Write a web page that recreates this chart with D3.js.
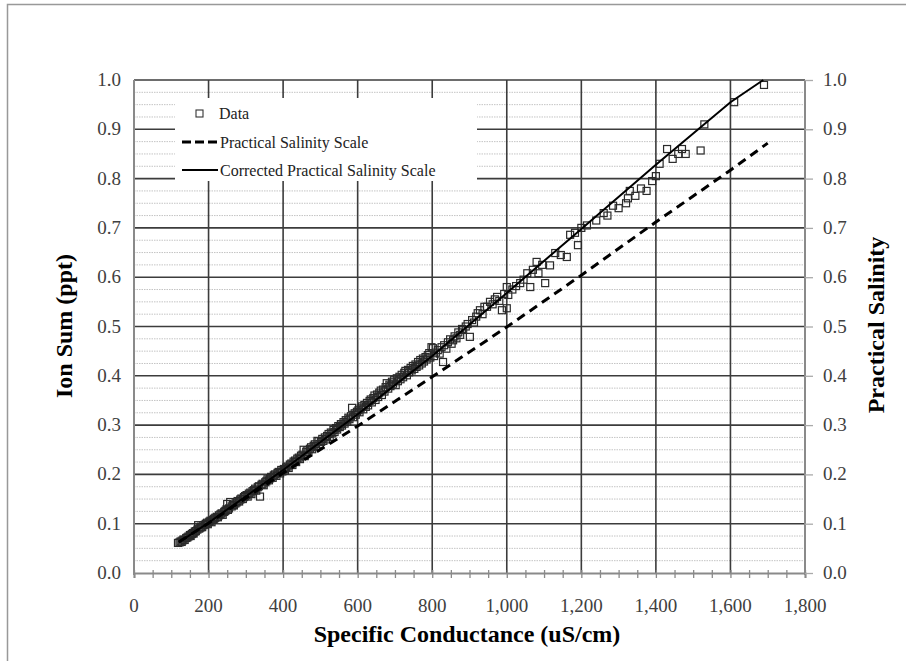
<!DOCTYPE html>
<html>
<head>
<meta charset="utf-8">
<script src="https://cdn.jsdelivr.net/npm/d3@7"></script>
<style>
  body { margin: 0; background: #fff; }
  text { font-family: "Liberation Serif", "Times New Roman", serif; }
</style>
</head>
<body>
<div id="chart"></div>
<script>
// measured samples: [specific conductance uS/cm, ion sum ppt]
const dataPoints = [
  [118,0.061],[122,0.062],[125,0.064],[128,0.063],[130,0.066],[133,0.068],[136,0.067],[140,0.071],[143,0.072],[146,0.074],
  [150,0.077],[152,0.075],[155,0.079],[158,0.081],[160,0.080],[163,0.084],[166,0.085],[170,0.088],[172,0.097],[175,0.090],
  [178,0.092],[180,0.094],[183,0.093],[186,0.097],[190,0.098],[193,0.100],[196,0.102],[198,0.099],
  [202,0.104],[205,0.106],[208,0.103],[212,0.108],[215,0.110],[218,0.112],[222,0.114],[225,0.113],[228,0.117],[232,0.119],
  [235,0.121],[238,0.118],[242,0.124],[245,0.126],[248,0.129],[250,0.140],[252,0.128],[255,0.131],[258,0.144],[262,0.135],
  [265,0.138],[268,0.137],[272,0.141],[275,0.143],[278,0.146],[282,0.145],[285,0.149],[288,0.151],[292,0.150],[295,0.154],[298,0.156],
  [302,0.158],[305,0.155],[308,0.161],[312,0.163],[315,0.160],[318,0.166],[322,0.168],[325,0.171],[328,0.167],[332,0.174],
  [335,0.176],[338,0.155],[342,0.179],[345,0.181],[348,0.178],[352,0.184],[355,0.186],[358,0.190],[362,0.188],[365,0.192],
  [368,0.195],[372,0.193],[375,0.198],[378,0.200],[382,0.197],[385,0.203],[388,0.205],[392,0.202],[395,0.209],[398,0.206],
  [402,0.211],[405,0.208],[408,0.214],[412,0.216],[415,0.213],[418,0.220],[422,0.222],[425,0.219],[428,0.226],[432,0.228],
  [435,0.225],[438,0.232],[442,0.234],[445,0.231],[448,0.238],[452,0.240],[455,0.250],[458,0.237],[462,0.246],[465,0.249],
  [468,0.245],[472,0.252],[475,0.255],[478,0.251],[482,0.258],[485,0.261],[488,0.257],[492,0.268],[495,0.267],[498,0.262],
  [502,0.266],[505,0.272],[508,0.268],[512,0.275],[515,0.271],[518,0.278],[522,0.282],[525,0.276],[528,0.285],[532,0.283],
  [535,0.290],[538,0.286],[542,0.294],[545,0.291],[548,0.298],[552,0.296],[555,0.302],[558,0.299],[562,0.306],[565,0.303],
  [568,0.310],[572,0.307],[575,0.315],[578,0.312],[582,0.318],[585,0.335],[588,0.316],[592,0.324],[595,0.321],[598,0.327],
  [602,0.330],[605,0.326],[608,0.334],[612,0.338],[615,0.332],[618,0.341],[622,0.337],[625,0.345],[628,0.340],[632,0.349],
  [635,0.352],[638,0.346],[642,0.355],[645,0.360],[648,0.351],[652,0.362],[655,0.357],[658,0.366],[662,0.370],[665,0.361],
  [668,0.372],[672,0.368],[675,0.377],[678,0.385],[682,0.374],[685,0.382],[688,0.379],[692,0.388],[695,0.384],[698,0.392],
  [702,0.381],[705,0.395],[708,0.389],[712,0.398],[715,0.393],[718,0.402],[722,0.397],[725,0.406],[728,0.410],[732,0.401],
  [735,0.412],[738,0.407],[742,0.416],[745,0.411],[748,0.420],[752,0.414],[755,0.423],[758,0.418],[762,0.428],[765,0.421],
  [768,0.432],[772,0.425],[775,0.435],[778,0.429],[782,0.438],[785,0.433],[788,0.442],[792,0.446],[795,0.437],[798,0.458],
  [802,0.456],[805,0.440],[810,0.447],[815,0.452],[820,0.445],[825,0.458],[829,0.428],[832,0.462],[838,0.455],[842,0.468],
  [848,0.474],[852,0.465],[856,0.472],[860,0.480],[865,0.476],[870,0.488],[875,0.483],[880,0.495],[883,0.493],[890,0.500],
  [895,0.505],[901,0.479],[907,0.513],[912,0.508],[918,0.520],[922,0.527],[928,0.533],[935,0.525],[940,0.540],[947,0.540],
  [955,0.550],[962,0.545],[968,0.555],[974,0.560],[980,0.552],[987,0.533],[993,0.566],[1000,0.580],[1000,0.537],[1004,0.564],
  [1015,0.575],[1025,0.582],[1036,0.588],[1045,0.595],[1055,0.608],[1063,0.580],[1070,0.615],[1080,0.631],[1085,0.608],[1095,0.625],
  [1103,0.588],[1116,0.624],[1130,0.649],[1145,0.645],[1161,0.641],[1170,0.686],[1183,0.690],[1191,0.665],
  [1200,0.700],[1215,0.705],[1240,0.715],[1260,0.730],[1270,0.725],[1285,0.745],[1300,0.740],[1320,0.750],[1325,0.760],[1330,0.775],
  [1345,0.765],[1360,0.780],[1375,0.775],[1390,0.795],[1400,0.805],[1410,0.830],[1430,0.860],[1445,0.840],[1460,0.850],[1470,0.860],
  [1480,0.850],[1520,0.857],[1530,0.910],[1610,0.955],[1690,0.990]
];

// Practical Salinity Scale curve (dashed)
const pssLine = [
  [120,0.063],[200,0.101],[400,0.203],[600,0.298],[800,0.398],[1000,0.499],[1200,0.604],[1400,0.712],[1600,0.817],[1700,0.872]
];

// Corrected Practical Salinity Scale curve (solid)
const correctedLine = [
  [120,0.062],[200,0.102],[400,0.209],[600,0.322],[800,0.440],[1000,0.568],[1200,0.698],[1400,0.828],[1600,0.955],[1688,1.0]
];

const xTicks = [0,200,400,600,800,1000,1200,1400,1600,1800];
const yTicks = [0,0.1,0.2,0.3,0.4,0.5,0.6,0.7,0.8,0.9,1.0];
const legendItems = ["Data", "Practical Salinity Scale", "Corrected Practical Salinity Scale"];

const W = 906, H = 661;
const svg = d3.select("#chart").append("svg")
    .attr("width", W)
    .attr("height", H);

// outer frame
svg.append("rect")
    .attr("x", 7.5).attr("y", 4.5)
    .attr("width", W + 10).attr("height", H + 10)
    .attr("fill", "none")
    .attr("stroke", "#999")
    .attr("stroke-width", 1.5);

const x = d3.scaleLinear().domain([0, 1800]).range([134, 805]);
const y = d3.scaleLinear().domain([0, 1]).range([573, 80]);

const grid = svg.append("g");

// minor dotted horizontal lines every 0.025
const minorY = d3.range(0, 40).map(i => i * 0.025).filter((d, i) => i % 4 !== 0);
grid.selectAll(".minor")
    .data(minorY)
    .enter().append("line")
    .attr("x1", x(0)).attr("x2", x(1800))
    .attr("y1", d => y(d)).attr("y2", d => y(d))
    .attr("stroke", "#c4c4c4")
    .attr("stroke-width", 1)
    .attr("stroke-dasharray", "1.5,1");

// major horizontal lines
grid.selectAll(".hmajor")
    .data(yTicks.filter(d => d > 0))
    .enter().append("line")
    .attr("x1", x(0)).attr("x2", x(1800))
    .attr("y1", d => y(d)).attr("y2", d => y(d))
    .attr("stroke", "#3c3c3c")
    .attr("stroke-width", 1.6);

// vertical lines
grid.selectAll(".vmajor")
    .data(xTicks.filter(d => d > 0 && d < 1800))
    .enter().append("line")
    .attr("x1", d => x(d)).attr("x2", d => x(d))
    .attr("y1", y(0)).attr("y2", y(1))
    .attr("stroke", "#3c3c3c")
    .attr("stroke-width", 1.6);

// axis lines (grey)
const axisCol = "#8a8a8a";
svg.append("line")
    .attr("x1", x(0)).attr("x2", x(0)).attr("y1", y(1)).attr("y2", y(0) + 2)
    .attr("stroke", axisCol).attr("stroke-width", 2);
svg.append("line")
    .attr("x1", x(1800)).attr("x2", x(1800)).attr("y1", y(1)).attr("y2", y(0) + 2)
    .attr("stroke", axisCol).attr("stroke-width", 2);

// bottom axis with minor ticks every 50
const xAxis = d3.axisBottom(x)
    .tickValues(d3.range(0, 1801, 50))
    .tickSize(5)
    .tickFormat("");
const gx = svg.append("g")
    .attr("transform", `translate(0,${y(0)})`)
    .call(xAxis);
gx.select(".domain").attr("stroke", axisCol).attr("stroke-width", 2);
gx.selectAll(".tick line").attr("stroke", axisCol).attr("stroke-width", 1.3).attr("y1", -3);

// x tick labels
svg.append("g").selectAll("text")
    .data(xTicks)
    .enter().append("text")
    .attr("x", d => x(d))
    .attr("y", 612)
    .attr("text-anchor", "middle")
    .attr("font-size", "19px")
    .attr("fill", "#404040")
    .text(d => d3.format(",")(d));

// left y tick labels
svg.append("g").selectAll("text")
    .data(yTicks)
    .enter().append("text")
    .attr("x", 121)
    .attr("y", d => y(d) + 6)
    .attr("text-anchor", "end")
    .attr("font-size", "19px")
    .attr("fill", "#404040")
    .text(d => d.toFixed(1));

// right axis ticks + labels
const yRight = d3.axisRight(y).tickValues(yTicks).tickSize(8).tickFormat("");
const gr = svg.append("g")
    .attr("transform", `translate(${x(1800)},0)`)
    .call(yRight);
gr.select(".domain").remove();
gr.selectAll(".tick line").attr("stroke", "#aaa").attr("stroke-width", 1.3);

svg.append("g").selectAll("text")
    .data(yTicks)
    .enter().append("text")
    .attr("x", 823)
    .attr("y", d => y(d) + 6)
    .attr("text-anchor", "start")
    .attr("font-size", "19px")
    .attr("fill", "#404040")
    .text(d => d.toFixed(1));

// axis titles
svg.append("text")
    .attr("x", 467).attr("y", 642)
    .attr("text-anchor", "middle")
    .attr("font-size", "24px")
    .attr("font-weight", "bold")
    .text("Specific Conductance (uS/cm)");

svg.append("text")
    .attr("transform", "translate(72,326) rotate(-90)")
    .attr("text-anchor", "middle")
    .attr("font-size", "24px")
    .attr("font-weight", "bold")
    .text("Ion Sum (ppt)");

svg.append("text")
    .attr("transform", "translate(884,325) rotate(-90)")
    .attr("text-anchor", "middle")
    .attr("font-size", "24px")
    .attr("font-weight", "bold")
    .text("Practical Salinity");

// data squares
svg.append("g").selectAll("rect")
    .data(dataPoints)
    .enter().append("rect")
    .attr("x", d => x(d[0]) - 3.5)
    .attr("y", d => y(d[1]) - 3.5)
    .attr("width", 7)
    .attr("height", 7)
    .attr("fill", "none")
    .attr("stroke", "#2a2a2a")
    .attr("stroke-width", 1.2);

const line = d3.line()
    .x(d => x(d[0]))
    .y(d => y(d[1]));

svg.append("path")
    .datum(pssLine)
    .attr("d", line)
    .attr("fill", "none")
    .attr("stroke", "#000")
    .attr("stroke-width", 3)
    .attr("stroke-dasharray", "9,6");

svg.append("path")
    .datum(correctedLine)
    .attr("d", line)
    .attr("fill", "none")
    .attr("stroke", "#000")
    .attr("stroke-width", 2);

// legend
const lg = svg.append("g");
lg.append("rect")
    .attr("x", 175).attr("y", 98)
    .attr("width", 302).attr("height", 83)
    .attr("fill", "#fff");

lg.append("rect")
    .attr("x", 196).attr("y", 110)
    .attr("width", 7).attr("height", 7)
    .attr("fill", "none")
    .attr("stroke", "#333")
    .attr("stroke-width", 1.1);
lg.append("line")
    .attr("x1", 182).attr("x2", 218).attr("y1", 142).attr("y2", 142)
    .attr("stroke", "#000").attr("stroke-width", 3)
    .attr("stroke-dasharray", "9,4");
lg.append("line")
    .attr("x1", 182).attr("x2", 218).attr("y1", 170).attr("y2", 170)
    .attr("stroke", "#000").attr("stroke-width", 2);

lg.selectAll("text")
    .data(legendItems)
    .enter().append("text")
    .attr("x", (d, i) => i === 0 ? 219 : 220)
    .attr("y", (d, i) => [119, 148, 176][i])
    .attr("font-size", "16px")
    .attr("fill", "#222")
    .text(d => d);
</script>
</body>
</html>
